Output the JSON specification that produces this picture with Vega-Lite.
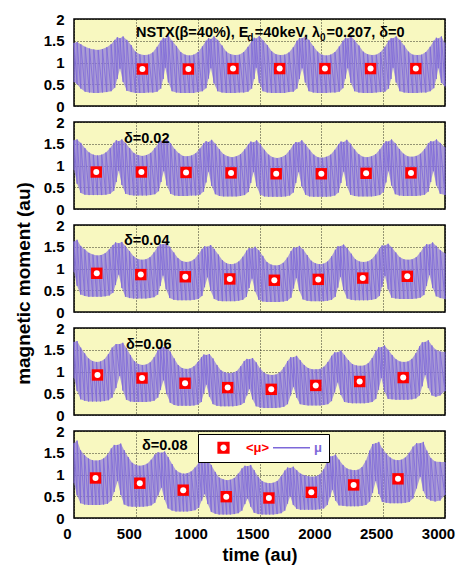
{
"$schema": "https://vega.github.io/schema/vega-lite/v6.json",
"padding": {"left": 13, "top": 11, "right": 0, "bottom": 0},
"background": "white",
"spacing": 16,
"bounds": "flush",
"resolve": {"scale": {"color": "independent"}, "legend": {"color": "independent"}},
"config": {
 "font": "Liberation Sans",
 "view": {"stroke": "black", "strokeWidth": 1.5, "fill": "#f8f8c0"},
 "axis": {"grid": true, "gridColor": "black", "gridDash": [1, 2], "gridOpacity": 0.8, "gridWidth": 1, "domain": false, "ticks": false, "labelOverlap": false, "labelFlush": false, "labelFont": "Liberation Sans", "labelFontWeight": "bold", "labelFontSize": 15, "labelColor": "black", "titleFont": "Liberation Sans", "titleFontWeight": "bold", "titleColor": "black", "titleFontSize": 18},
 "title": {"font": "Liberation Sans", "fontWeight": "bold", "fontSize": 14.5, "color": "black", "anchor": "start", "frame": "group", "subtitleFont": "Liberation Sans", "subtitleFontWeight": "bold", "subtitleFontSize": 10, "subtitleColor": "black"}
},
"datasets": {
"m1": [{"t":0,"l":0.55,"h":1.45},{"t":25,"l":0.5,"h":1.47},{"t":55,"l":0.4,"h":1.42},{"t":90,"l":0.33,"h":1.36},{"t":125,"l":0.31,"h":1.32},{"t":160,"l":0.3,"h":1.3},{"t":195,"l":0.3,"h":1.29},{"t":230,"l":0.31,"h":1.31},{"t":265,"l":0.32,"h":1.35},{"t":300,"l":0.34,"h":1.42},{"t":330,"l":0.42,"h":1.52},{"t":350,"l":0.62,"h":1.58},
{"t":372,"l":0.86,"h":1.56},{"t":397,"l":0.55,"h":1.6},{"t":427,"l":0.35,"h":1.52},{"t":462,"l":0.32,"h":1.4},{"t":497,"l":0.3,"h":1.25},{"t":532,"l":0.3,"h":1.19},{"t":567,"l":0.3,"h":1.17},{"t":602,"l":0.31,"h":1.18},{"t":637,"l":0.31,"h":1.23},{"t":672,"l":0.33,"h":1.36},{"t":702,"l":0.4,"h":1.5},{"t":722,"l":0.62,"h":1.57},
{"t":738,"l":0.88,"h":1.55},{"t":763,"l":0.54,"h":1.62},{"t":793,"l":0.34,"h":1.5},{"t":828,"l":0.31,"h":1.38},{"t":863,"l":0.3,"h":1.24},{"t":898,"l":0.3,"h":1.18},{"t":933,"l":0.3,"h":1.16},{"t":968,"l":0.3,"h":1.18},{"t":1003,"l":0.32,"h":1.24},{"t":1038,"l":0.34,"h":1.37},{"t":1068,"l":0.41,"h":1.5},{"t":1088,"l":0.63,"h":1.56},
{"t":1107,"l":0.87,"h":1.54},{"t":1132,"l":0.52,"h":1.6},{"t":1162,"l":0.34,"h":1.52},{"t":1197,"l":0.31,"h":1.39},{"t":1232,"l":0.3,"h":1.25},{"t":1267,"l":0.3,"h":1.19},{"t":1302,"l":0.3,"h":1.17},{"t":1337,"l":0.31,"h":1.18},{"t":1372,"l":0.31,"h":1.24},{"t":1407,"l":0.33,"h":1.36},{"t":1437,"l":0.4,"h":1.49},{"t":1457,"l":0.62,"h":1.57},
{"t":1473,"l":0.88,"h":1.55},{"t":1498,"l":0.53,"h":1.61},{"t":1528,"l":0.34,"h":1.51},{"t":1563,"l":0.31,"h":1.4},{"t":1598,"l":0.3,"h":1.26},{"t":1633,"l":0.3,"h":1.19},{"t":1668,"l":0.3,"h":1.17},{"t":1703,"l":0.3,"h":1.18},{"t":1738,"l":0.32,"h":1.23},{"t":1773,"l":0.33,"h":1.35},{"t":1803,"l":0.4,"h":1.5},{"t":1823,"l":0.62,"h":1.56},
{"t":1845,"l":0.87,"h":1.56},{"t":1870,"l":0.54,"h":1.6},{"t":1900,"l":0.34,"h":1.52},{"t":1935,"l":0.31,"h":1.38},{"t":1970,"l":0.3,"h":1.25},{"t":2005,"l":0.3,"h":1.18},{"t":2040,"l":0.3,"h":1.16},{"t":2075,"l":0.31,"h":1.18},{"t":2110,"l":0.31,"h":1.24},{"t":2145,"l":0.33,"h":1.37},{"t":2175,"l":0.41,"h":1.5},{"t":2195,"l":0.63,"h":1.57},
{"t":2214,"l":0.87,"h":1.55},{"t":2239,"l":0.53,"h":1.61},{"t":2269,"l":0.34,"h":1.51},{"t":2304,"l":0.31,"h":1.39},{"t":2339,"l":0.3,"h":1.25},{"t":2374,"l":0.3,"h":1.19},{"t":2409,"l":0.3,"h":1.17},{"t":2444,"l":0.31,"h":1.18},{"t":2479,"l":0.32,"h":1.24},{"t":2514,"l":0.33,"h":1.36},{"t":2544,"l":0.4,"h":1.5},{"t":2564,"l":0.62,"h":1.56},
{"t":2580,"l":0.88,"h":1.56},{"t":2605,"l":0.54,"h":1.6},{"t":2635,"l":0.34,"h":1.52},{"t":2670,"l":0.31,"h":1.39},{"t":2705,"l":0.3,"h":1.25},{"t":2740,"l":0.3,"h":1.18},{"t":2775,"l":0.3,"h":1.17},{"t":2810,"l":0.31,"h":1.18},{"t":2845,"l":0.31,"h":1.24},{"t":2880,"l":0.34,"h":1.36},{"t":2910,"l":0.41,"h":1.5},{"t":2930,"l":0.62,"h":1.57},
{"t":2946,"l":0.87,"h":1.55},{"t":2971,"l":0.53,"h":1.6},{"t":3000,"l":0.45,"h":1.45}],
"m2": [{"t":0,"l":0.9,"h":1.58},{"t":25,"l":0.58,"h":1.6},{"t":55,"l":0.37,"h":1.52},{"t":88,"l":0.33,"h":1.4},{"t":122,"l":0.32,"h":1.3},{"t":156,"l":0.32,"h":1.25},{"t":190,"l":0.32,"h":1.23},{"t":224,"l":0.32,"h":1.25},{"t":258,"l":0.33,"h":1.3},{"t":292,"l":0.35,"h":1.4},{"t":322,"l":0.42,"h":1.52},{"t":342,"l":0.62,"h":1.58},
{"t":362,"l":0.88,"h":1.56},{"t":387,"l":0.55,"h":1.6},{"t":417,"l":0.35,"h":1.52},{"t":450,"l":0.32,"h":1.4},{"t":484,"l":0.31,"h":1.29},{"t":518,"l":0.31,"h":1.24},{"t":552,"l":0.31,"h":1.22},{"t":586,"l":0.31,"h":1.24},{"t":620,"l":0.32,"h":1.29},{"t":654,"l":0.34,"h":1.4},{"t":684,"l":0.41,"h":1.52},{"t":704,"l":0.62,"h":1.57},
{"t":726,"l":0.87,"h":1.55},{"t":751,"l":0.54,"h":1.61},{"t":781,"l":0.35,"h":1.51},{"t":814,"l":0.31,"h":1.38},{"t":848,"l":0.3,"h":1.28},{"t":882,"l":0.3,"h":1.22},{"t":916,"l":0.3,"h":1.21},{"t":950,"l":0.31,"h":1.23},{"t":984,"l":0.31,"h":1.28},{"t":1018,"l":0.33,"h":1.39},{"t":1048,"l":0.4,"h":1.51},{"t":1068,"l":0.61,"h":1.56},
{"t":1088,"l":0.86,"h":1.54},{"t":1113,"l":0.53,"h":1.59},{"t":1143,"l":0.34,"h":1.5},{"t":1176,"l":0.3,"h":1.37},{"t":1210,"l":0.29,"h":1.26},{"t":1244,"l":0.29,"h":1.21},{"t":1278,"l":0.29,"h":1.19},{"t":1312,"l":0.29,"h":1.21},{"t":1346,"l":0.3,"h":1.26},{"t":1380,"l":0.32,"h":1.37},{"t":1410,"l":0.39,"h":1.49},{"t":1430,"l":0.6,"h":1.55},
{"t":1452,"l":0.85,"h":1.53},{"t":1477,"l":0.52,"h":1.58},{"t":1507,"l":0.33,"h":1.49},{"t":1540,"l":0.29,"h":1.36},{"t":1574,"l":0.28,"h":1.25},{"t":1608,"l":0.28,"h":1.19},{"t":1642,"l":0.28,"h":1.17},{"t":1676,"l":0.28,"h":1.19},{"t":1710,"l":0.29,"h":1.24},{"t":1744,"l":0.31,"h":1.35},{"t":1774,"l":0.38,"h":1.48},{"t":1794,"l":0.6,"h":1.54},
{"t":1817,"l":0.85,"h":1.53},{"t":1842,"l":0.52,"h":1.58},{"t":1872,"l":0.33,"h":1.49},{"t":1905,"l":0.29,"h":1.36},{"t":1939,"l":0.28,"h":1.25},{"t":1973,"l":0.28,"h":1.19},{"t":2007,"l":0.28,"h":1.18},{"t":2041,"l":0.28,"h":1.2},{"t":2075,"l":0.29,"h":1.25},{"t":2109,"l":0.31,"h":1.36},{"t":2139,"l":0.38,"h":1.49},{"t":2159,"l":0.6,"h":1.55},
{"t":2181,"l":0.86,"h":1.54},{"t":2206,"l":0.53,"h":1.59},{"t":2236,"l":0.33,"h":1.5},{"t":2269,"l":0.3,"h":1.37},{"t":2303,"l":0.29,"h":1.26},{"t":2337,"l":0.29,"h":1.2},{"t":2371,"l":0.29,"h":1.19},{"t":2405,"l":0.29,"h":1.21},{"t":2439,"l":0.3,"h":1.26},{"t":2473,"l":0.32,"h":1.37},{"t":2503,"l":0.39,"h":1.5},{"t":2523,"l":0.61,"h":1.56},
{"t":2543,"l":0.87,"h":1.55},{"t":2568,"l":0.54,"h":1.6},{"t":2598,"l":0.34,"h":1.51},{"t":2631,"l":0.31,"h":1.38},{"t":2665,"l":0.3,"h":1.27},{"t":2699,"l":0.3,"h":1.21},{"t":2733,"l":0.3,"h":1.2},{"t":2767,"l":0.3,"h":1.22},{"t":2801,"l":0.31,"h":1.27},{"t":2835,"l":0.33,"h":1.38},{"t":2865,"l":0.4,"h":1.51},{"t":2885,"l":0.62,"h":1.56},
{"t":2906,"l":0.87,"h":1.55},{"t":2931,"l":0.54,"h":1.6},{"t":2961,"l":0.35,"h":1.52},{"t":3000,"l":0.32,"h":1.42}],
"m3": [{"t":0,"l":0.92,"h":1.62},{"t":25,"l":0.6,"h":1.66},{"t":54,"l":0.4,"h":1.52},{"t":87,"l":0.37,"h":1.44},{"t":120,"l":0.35,"h":1.36},{"t":153,"l":0.35,"h":1.32},{"t":186,"l":0.35,"h":1.3},{"t":219,"l":0.35,"h":1.31},{"t":252,"l":0.36,"h":1.35},{"t":285,"l":0.38,"h":1.44},{"t":315,"l":0.44,"h":1.54},{"t":336,"l":0.62,"h":1.6},
{"t":362,"l":0.86,"h":1.58},{"t":387,"l":0.55,"h":1.61},{"t":416,"l":0.35,"h":1.52},{"t":449,"l":0.32,"h":1.4},{"t":482,"l":0.31,"h":1.28},{"t":515,"l":0.31,"h":1.22},{"t":548,"l":0.31,"h":1.2},{"t":581,"l":0.31,"h":1.21},{"t":614,"l":0.32,"h":1.26},{"t":647,"l":0.34,"h":1.37},{"t":677,"l":0.4,"h":1.5},{"t":698,"l":0.6,"h":1.56},
{"t":720,"l":0.84,"h":1.56},{"t":745,"l":0.52,"h":1.59},{"t":774,"l":0.32,"h":1.5},{"t":807,"l":0.28,"h":1.37},{"t":840,"l":0.27,"h":1.24},{"t":873,"l":0.27,"h":1.17},{"t":906,"l":0.27,"h":1.15},{"t":939,"l":0.27,"h":1.16},{"t":972,"l":0.28,"h":1.21},{"t":1005,"l":0.3,"h":1.32},{"t":1035,"l":0.37,"h":1.45},{"t":1056,"l":0.57,"h":1.51},
{"t":1080,"l":0.8,"h":1.5},{"t":1105,"l":0.49,"h":1.54},{"t":1134,"l":0.3,"h":1.45},{"t":1167,"l":0.26,"h":1.32},{"t":1200,"l":0.25,"h":1.19},{"t":1233,"l":0.25,"h":1.12},{"t":1266,"l":0.25,"h":1.1},{"t":1299,"l":0.25,"h":1.11},{"t":1332,"l":0.26,"h":1.16},{"t":1365,"l":0.28,"h":1.27},{"t":1395,"l":0.35,"h":1.41},{"t":1416,"l":0.55,"h":1.47},
{"t":1440,"l":0.77,"h":1.46},{"t":1465,"l":0.47,"h":1.5},{"t":1494,"l":0.28,"h":1.42},{"t":1527,"l":0.24,"h":1.29},{"t":1560,"l":0.23,"h":1.15},{"t":1593,"l":0.23,"h":1.09},{"t":1626,"l":0.23,"h":1.07},{"t":1659,"l":0.23,"h":1.08},{"t":1692,"l":0.24,"h":1.13},{"t":1725,"l":0.26,"h":1.25},{"t":1755,"l":0.33,"h":1.4},{"t":1776,"l":0.54,"h":1.48},
{"t":1798,"l":0.78,"h":1.48},{"t":1823,"l":0.48,"h":1.52},{"t":1852,"l":0.29,"h":1.44},{"t":1885,"l":0.26,"h":1.31},{"t":1918,"l":0.25,"h":1.18},{"t":1951,"l":0.25,"h":1.12},{"t":1984,"l":0.25,"h":1.1},{"t":2017,"l":0.25,"h":1.11},{"t":2050,"l":0.26,"h":1.16},{"t":2083,"l":0.28,"h":1.28},{"t":2113,"l":0.35,"h":1.43},{"t":2134,"l":0.56,"h":1.51},
{"t":2155,"l":0.81,"h":1.51},{"t":2180,"l":0.5,"h":1.55},{"t":2209,"l":0.31,"h":1.47},{"t":2242,"l":0.28,"h":1.34},{"t":2275,"l":0.27,"h":1.21},{"t":2308,"l":0.27,"h":1.16},{"t":2341,"l":0.27,"h":1.15},{"t":2374,"l":0.27,"h":1.16},{"t":2407,"l":0.28,"h":1.21},{"t":2440,"l":0.3,"h":1.32},{"t":2470,"l":0.37,"h":1.46},{"t":2491,"l":0.58,"h":1.53},
{"t":2515,"l":0.83,"h":1.53},{"t":2540,"l":0.52,"h":1.57},{"t":2569,"l":0.33,"h":1.49},{"t":2602,"l":0.31,"h":1.37},{"t":2635,"l":0.3,"h":1.26},{"t":2668,"l":0.3,"h":1.21},{"t":2701,"l":0.3,"h":1.2},{"t":2734,"l":0.3,"h":1.21},{"t":2767,"l":0.31,"h":1.26},{"t":2800,"l":0.33,"h":1.37},{"t":2830,"l":0.39,"h":1.5},{"t":2851,"l":0.6,"h":1.56},
{"t":2875,"l":0.85,"h":1.55},{"t":2900,"l":0.55,"h":1.6},{"t":2929,"l":0.36,"h":1.52},{"t":2962,"l":0.32,"h":1.42},{"t":3000,"l":0.3,"h":1.35}],
"m4": [{"t":0,"l":0.85,"h":1.68},{"t":25,"l":0.55,"h":1.7},{"t":54,"l":0.36,"h":1.55},{"t":86,"l":0.33,"h":1.42},{"t":118,"l":0.31,"h":1.3},{"t":150,"l":0.31,"h":1.24},{"t":182,"l":0.31,"h":1.22},{"t":214,"l":0.31,"h":1.23},{"t":246,"l":0.32,"h":1.28},{"t":278,"l":0.34,"h":1.4},{"t":308,"l":0.4,"h":1.55},{"t":340,"l":0.62,"h":1.63},
{"t":370,"l":0.9,"h":1.63},{"t":395,"l":0.56,"h":1.66},{"t":424,"l":0.35,"h":1.54},{"t":456,"l":0.31,"h":1.38},{"t":488,"l":0.3,"h":1.24},{"t":520,"l":0.3,"h":1.17},{"t":552,"l":0.3,"h":1.15},{"t":584,"l":0.3,"h":1.16},{"t":616,"l":0.31,"h":1.21},{"t":648,"l":0.33,"h":1.33},{"t":678,"l":0.4,"h":1.49},{"t":700,"l":0.58,"h":1.56},
{"t":724,"l":0.8,"h":1.56},{"t":749,"l":0.48,"h":1.58},{"t":778,"l":0.28,"h":1.46},{"t":810,"l":0.23,"h":1.3},{"t":842,"l":0.21,"h":1.15},{"t":874,"l":0.21,"h":1.08},{"t":906,"l":0.21,"h":1.06},{"t":938,"l":0.21,"h":1.07},{"t":970,"l":0.22,"h":1.12},{"t":1002,"l":0.24,"h":1.22},{"t":1030,"l":0.3,"h":1.33},{"t":1050,"l":0.5,"h":1.39},
{"t":1070,"l":0.7,"h":1.38},{"t":1095,"l":0.42,"h":1.4},{"t":1124,"l":0.25,"h":1.3},{"t":1156,"l":0.21,"h":1.15},{"t":1188,"l":0.2,"h":1.03},{"t":1220,"l":0.2,"h":0.98},{"t":1252,"l":0.2,"h":0.96},{"t":1284,"l":0.2,"h":0.97},{"t":1316,"l":0.21,"h":1.01},{"t":1348,"l":0.23,"h":1.12},{"t":1376,"l":0.28,"h":1.24},{"t":1398,"l":0.45,"h":1.29},
{"t":1419,"l":0.6,"h":1.28},{"t":1444,"l":0.36,"h":1.31},{"t":1473,"l":0.2,"h":1.21},{"t":1505,"l":0.17,"h":1.07},{"t":1537,"l":0.16,"h":0.97},{"t":1569,"l":0.16,"h":0.93},{"t":1601,"l":0.16,"h":0.92},{"t":1633,"l":0.16,"h":0.93},{"t":1665,"l":0.17,"h":0.98},{"t":1697,"l":0.19,"h":1.1},{"t":1727,"l":0.25,"h":1.24},{"t":1752,"l":0.45,"h":1.33},
{"t":1775,"l":0.65,"h":1.33},{"t":1800,"l":0.4,"h":1.36},{"t":1829,"l":0.25,"h":1.26},{"t":1861,"l":0.23,"h":1.15},{"t":1893,"l":0.22,"h":1.08},{"t":1925,"l":0.22,"h":1.05},{"t":1957,"l":0.22,"h":1.05},{"t":1989,"l":0.22,"h":1.06},{"t":2021,"l":0.23,"h":1.11},{"t":2053,"l":0.25,"h":1.22},{"t":2083,"l":0.32,"h":1.36},{"t":2108,"l":0.52,"h":1.44},
{"t":2133,"l":0.75,"h":1.44},{"t":2158,"l":0.46,"h":1.48},{"t":2187,"l":0.3,"h":1.38},{"t":2219,"l":0.28,"h":1.26},{"t":2251,"l":0.27,"h":1.17},{"t":2283,"l":0.27,"h":1.14},{"t":2315,"l":0.27,"h":1.13},{"t":2347,"l":0.27,"h":1.14},{"t":2379,"l":0.28,"h":1.19},{"t":2411,"l":0.3,"h":1.31},{"t":2441,"l":0.37,"h":1.47},{"t":2463,"l":0.58,"h":1.56},
{"t":2486,"l":0.85,"h":1.56},{"t":2511,"l":0.53,"h":1.6},{"t":2540,"l":0.37,"h":1.5},{"t":2572,"l":0.36,"h":1.38},{"t":2604,"l":0.35,"h":1.28},{"t":2636,"l":0.35,"h":1.23},{"t":2668,"l":0.35,"h":1.22},{"t":2700,"l":0.35,"h":1.23},{"t":2732,"l":0.36,"h":1.29},{"t":2764,"l":0.38,"h":1.42},{"t":2794,"l":0.45,"h":1.58},{"t":2816,"l":0.66,"h":1.67},
{"t":2840,"l":0.92,"h":1.68},{"t":2865,"l":0.62,"h":1.72},{"t":2894,"l":0.45,"h":1.6},{"t":2926,"l":0.42,"h":1.5},{"t":2960,"l":0.45,"h":1.46},{"t":3000,"l":0.55,"h":1.45}],
"m5": [{"t":0,"l":0.8,"h":1.72},{"t":25,"l":0.52,"h":1.78},{"t":53,"l":0.34,"h":1.56},{"t":85,"l":0.31,"h":1.45},{"t":117,"l":0.3,"h":1.37},{"t":149,"l":0.3,"h":1.33},{"t":178,"l":0.3,"h":1.32},{"t":207,"l":0.3,"h":1.33},{"t":239,"l":0.31,"h":1.37},{"t":271,"l":0.33,"h":1.46},{"t":301,"l":0.4,"h":1.6},{"t":325,"l":0.6,"h":1.68},
{"t":353,"l":0.85,"h":1.68},{"t":378,"l":0.53,"h":1.71},{"t":406,"l":0.31,"h":1.56},{"t":438,"l":0.27,"h":1.4},{"t":470,"l":0.26,"h":1.27},{"t":502,"l":0.26,"h":1.22},{"t":531,"l":0.26,"h":1.2},{"t":560,"l":0.26,"h":1.21},{"t":592,"l":0.27,"h":1.25},{"t":624,"l":0.29,"h":1.34},{"t":654,"l":0.35,"h":1.46},{"t":680,"l":0.52,"h":1.51},
{"t":708,"l":0.7,"h":1.5},{"t":733,"l":0.42,"h":1.53},{"t":761,"l":0.22,"h":1.4},{"t":793,"l":0.17,"h":1.24},{"t":825,"l":0.15,"h":1.1},{"t":857,"l":0.15,"h":1.04},{"t":886,"l":0.15,"h":1.02},{"t":915,"l":0.15,"h":1.03},{"t":947,"l":0.16,"h":1.07},{"t":979,"l":0.18,"h":1.16},{"t":1009,"l":0.24,"h":1.27},{"t":1033,"l":0.4,"h":1.32},
{"t":1057,"l":0.55,"h":1.31},{"t":1082,"l":0.32,"h":1.34},{"t":1110,"l":0.14,"h":1.22},{"t":1142,"l":0.1,"h":1.06},{"t":1174,"l":0.08,"h":0.93},{"t":1206,"l":0.08,"h":0.89},{"t":1235,"l":0.08,"h":0.87},{"t":1264,"l":0.08,"h":0.88},{"t":1296,"l":0.09,"h":0.92},{"t":1328,"l":0.11,"h":1.02},{"t":1358,"l":0.17,"h":1.14},{"t":1382,"l":0.32,"h":1.2},
{"t":1404,"l":0.45,"h":1.19},{"t":1429,"l":0.26,"h":1.22},{"t":1457,"l":0.12,"h":1.1},{"t":1489,"l":0.09,"h":0.95},{"t":1521,"l":0.08,"h":0.85},{"t":1553,"l":0.08,"h":0.81},{"t":1582,"l":0.08,"h":0.8},{"t":1611,"l":0.08,"h":0.81},{"t":1643,"l":0.09,"h":0.85},{"t":1675,"l":0.11,"h":0.96},{"t":1705,"l":0.17,"h":1.09},{"t":1727,"l":0.33,"h":1.16},
{"t":1748,"l":0.5,"h":1.15},{"t":1773,"l":0.3,"h":1.18},{"t":1801,"l":0.21,"h":1.1},{"t":1833,"l":0.19,"h":1.02},{"t":1865,"l":0.19,"h":0.98},{"t":1897,"l":0.19,"h":0.96},{"t":1926,"l":0.19,"h":0.95},{"t":1955,"l":0.19,"h":0.96},{"t":1987,"l":0.2,"h":1.0},{"t":2019,"l":0.22,"h":1.12},{"t":2049,"l":0.3,"h":1.32},{"t":2070,"l":0.48,"h":1.42},
{"t":2090,"l":0.65,"h":1.42},{"t":2115,"l":0.4,"h":1.46},{"t":2143,"l":0.29,"h":1.34},{"t":2175,"l":0.28,"h":1.22},{"t":2207,"l":0.27,"h":1.14},{"t":2239,"l":0.27,"h":1.11},{"t":2268,"l":0.27,"h":1.1},{"t":2297,"l":0.27,"h":1.11},{"t":2329,"l":0.28,"h":1.17},{"t":2361,"l":0.3,"h":1.32},{"t":2391,"l":0.38,"h":1.55},{"t":2415,"l":0.58,"h":1.7},
{"t":2440,"l":0.85,"h":1.72},{"t":2465,"l":0.55,"h":1.75},{"t":2493,"l":0.37,"h":1.6},{"t":2525,"l":0.35,"h":1.48},{"t":2557,"l":0.34,"h":1.39},{"t":2589,"l":0.34,"h":1.34},{"t":2618,"l":0.34,"h":1.33},{"t":2647,"l":0.34,"h":1.34},{"t":2679,"l":0.35,"h":1.39},{"t":2711,"l":0.37,"h":1.5},{"t":2741,"l":0.45,"h":1.64},{"t":2770,"l":0.68,"h":1.72},
{"t":2800,"l":0.95,"h":1.72},{"t":2825,"l":0.62,"h":1.75},{"t":2853,"l":0.45,"h":1.55},{"t":2885,"l":0.4,"h":1.38},{"t":2920,"l":0.38,"h":1.3},{"t":2960,"l":0.4,"h":1.29},{"t":3000,"l":0.53,"h":1.29}],
"a1": [{"t":553,"v":0.85},{"t":925,"v":0.85},{"t":1286,"v":0.86},{"t":1663,"v":0.86},{"t":2029,"v":0.86},{"t":2398,"v":0.86},{"t":2764,"v":0.86}],
"a2": [{"t":180,"v":0.85},{"t":545,"v":0.85},{"t":906,"v":0.84},{"t":1270,"v":0.83},{"t":1635,"v":0.81},{"t":2000,"v":0.81},{"t":2362,"v":0.82},{"t":2725,"v":0.83}],
"a3": [{"t":184,"v":0.89},{"t":540,"v":0.86},{"t":900,"v":0.81},{"t":1260,"v":0.76},{"t":1620,"v":0.73},{"t":1975,"v":0.75},{"t":2335,"v":0.78},{"t":2695,"v":0.82}],
"a4": [{"t":190,"v":0.92},{"t":550,"v":0.85},{"t":898,"v":0.73},{"t":1243,"v":0.63},{"t":1595,"v":0.59},{"t":1955,"v":0.68},{"t":2310,"v":0.77},{"t":2662,"v":0.86}],
"a5": [{"t":174,"v":0.92},{"t":532,"v":0.8},{"t":883,"v":0.64},{"t":1231,"v":0.49},{"t":1576,"v":0.46},{"t":1919,"v":0.59},{"t":2261,"v":0.76},{"t":2620,"v":0.9}]
},
"vconcat": [
{
 "width": 371, "height": 87,
 "title": {"text": "NSTX(\u03b2=40%), E\u00a0\u2006=40keV, \u03bb\u00a0\u2006=0.207, \u03b4=0", "subtitle": "\u200b\u00a0\u00a0\u00a0\u00a0\u00a0\u00a0\u00a0\u00a0\u00a0\u00a0\u00a0\u00a0\u00a0\u00a0\u00a0\u00a0\u00a0\u00a0\u00a0\u00a0\u00a0\u00a0\u00a0\u00a0\u00a0\u00a0\u00a0\u00a0\u00a0\u00a0\u00a0\u00a0\u00a0\u00a0\u00a0\u00a0\u00a0\u00a0\u00a0\u00a0d\u00a0\u00a0\u00a0\u00a0\u00a0\u00a0\u00a0\u00a0\u00a0\u00a0\u00a0\u00a0\u00a0\u00a0\u00a0\u00a0\u00a0\u00a0\u00a0\u00a0\u00a0\u00a0\u00a0\u00a00", "dx": 62, "offset": -32, "subtitlePadding": -7.5},
 "layer": [
  {"data": {"name": "m1"}, "mark": {"type": "area", "color": "#8a76de", "opacity": 0.7},
   "encoding": {"x": {"field": "t", "type": "quantitative", "scale": {"domain": [0, 3000]}, "axis": {"values": [0, 500, 1000, 1500, 2000, 2500, 3000], "tickCount": 10, "labels": false, "title": null}},
    "y": {"field": "l", "type": "quantitative", "scale": {"domain": [0, 2]}, "axis": {"values": [0, 0.5, 1, 1.5, 2], "tickCount": 10, "format": "~g", "labelPadding": 10, "title": null}}, "y2": {"field": "h"}}},
  {"data": {"name": "m1"}, "transform": [{"fold": ["l", "h"]}], "mark": {"type": "line", "color": "#7d68d9", "strokeWidth": 0.8},
   "encoding": {"x": {"field": "t", "type": "quantitative"}, "y": {"field": "value", "type": "quantitative"}, "order": {"value": null}}},
  {"data": {"name": "a1"}, "mark": {"type": "point", "shape": "square", "filled": true, "color": "red", "size": 130, "opacity": 1},
   "encoding": {"x": {"field": "t", "type": "quantitative"}, "y": {"field": "v", "type": "quantitative"}}},
  {"data": {"name": "a1"}, "mark": {"type": "point", "shape": "circle", "filled": true, "color": "white", "size": 36, "opacity": 1},
   "encoding": {"x": {"field": "t", "type": "quantitative"}, "y": {"field": "v", "type": "quantitative"}}}
 ]
},
{
 "width": 371, "height": 87,
 "title": {"text": "\u03b4=0.02", "dx": 50, "offset": -31},
 "layer": [
  {"data": {"name": "m2"}, "mark": {"type": "area", "color": "#8a76de", "opacity": 0.7},
   "encoding": {"x": {"field": "t", "type": "quantitative", "scale": {"domain": [0, 3000]}, "axis": {"values": [0, 500, 1000, 1500, 2000, 2500, 3000], "tickCount": 10, "labels": false, "title": null}},
    "y": {"field": "l", "type": "quantitative", "scale": {"domain": [0, 2]}, "axis": {"values": [0, 0.5, 1, 1.5, 2], "tickCount": 10, "format": "~g", "labelPadding": 10, "title": null}}, "y2": {"field": "h"}}},
  {"data": {"name": "m2"}, "transform": [{"fold": ["l", "h"]}], "mark": {"type": "line", "color": "#7d68d9", "strokeWidth": 0.8},
   "encoding": {"x": {"field": "t", "type": "quantitative"}, "y": {"field": "value", "type": "quantitative"}, "order": {"value": null}}},
  {"data": {"name": "a2"}, "mark": {"type": "point", "shape": "square", "filled": true, "color": "red", "size": 130, "opacity": 1},
   "encoding": {"x": {"field": "t", "type": "quantitative"}, "y": {"field": "v", "type": "quantitative"}}},
  {"data": {"name": "a2"}, "mark": {"type": "point", "shape": "circle", "filled": true, "color": "white", "size": 36, "opacity": 1},
   "encoding": {"x": {"field": "t", "type": "quantitative"}, "y": {"field": "v", "type": "quantitative"}}}
 ]
},
{
 "width": 371, "height": 87,
 "title": {"text": "\u03b4=0.04", "dx": 50, "offset": -67},
 "layer": [
  {"data": {"name": "m3"}, "mark": {"type": "area", "color": "#8a76de", "opacity": 0.7},
   "encoding": {"x": {"field": "t", "type": "quantitative", "scale": {"domain": [0, 3000]}, "axis": {"values": [0, 500, 1000, 1500, 2000, 2500, 3000], "tickCount": 10, "labels": false, "title": null}},
    "y": {"field": "l", "type": "quantitative", "scale": {"domain": [0, 2]}, "axis": {"values": [0, 0.5, 1, 1.5, 2], "tickCount": 10, "format": "~g", "labelPadding": 10, "title": "magnetic moment (au)", "titleFontSize": 19, "titlePadding": 10, "titleY": 58}}, "y2": {"field": "h"}}},
  {"data": {"name": "m3"}, "transform": [{"fold": ["l", "h"]}], "mark": {"type": "line", "color": "#7d68d9", "strokeWidth": 0.8},
   "encoding": {"x": {"field": "t", "type": "quantitative"}, "y": {"field": "value", "type": "quantitative"}, "order": {"value": null}}},
  {"data": {"name": "a3"}, "mark": {"type": "point", "shape": "square", "filled": true, "color": "red", "size": 130, "opacity": 1},
   "encoding": {"x": {"field": "t", "type": "quantitative"}, "y": {"field": "v", "type": "quantitative"}}},
  {"data": {"name": "a3"}, "mark": {"type": "point", "shape": "circle", "filled": true, "color": "white", "size": 36, "opacity": 1},
   "encoding": {"x": {"field": "t", "type": "quantitative"}, "y": {"field": "v", "type": "quantitative"}}}
 ]
},
{
 "width": 371, "height": 87,
 "title": {"text": "\u03b4=0.06", "dx": 52, "offset": -31},
 "layer": [
  {"data": {"name": "m4"}, "mark": {"type": "area", "color": "#8a76de", "opacity": 0.7},
   "encoding": {"x": {"field": "t", "type": "quantitative", "scale": {"domain": [0, 3000]}, "axis": {"values": [0, 500, 1000, 1500, 2000, 2500, 3000], "tickCount": 10, "labels": false, "title": null}},
    "y": {"field": "l", "type": "quantitative", "scale": {"domain": [0, 2]}, "axis": {"values": [0, 0.5, 1, 1.5, 2], "tickCount": 10, "format": "~g", "labelPadding": 10, "title": null}}, "y2": {"field": "h"}}},
  {"data": {"name": "m4"}, "transform": [{"fold": ["l", "h"]}], "mark": {"type": "line", "color": "#7d68d9", "strokeWidth": 0.8},
   "encoding": {"x": {"field": "t", "type": "quantitative"}, "y": {"field": "value", "type": "quantitative"}, "order": {"value": null}}},
  {"data": {"name": "a4"}, "mark": {"type": "point", "shape": "square", "filled": true, "color": "red", "size": 130, "opacity": 1},
   "encoding": {"x": {"field": "t", "type": "quantitative"}, "y": {"field": "v", "type": "quantitative"}}},
  {"data": {"name": "a4"}, "mark": {"type": "point", "shape": "circle", "filled": true, "color": "white", "size": 36, "opacity": 1},
   "encoding": {"x": {"field": "t", "type": "quantitative"}, "y": {"field": "v", "type": "quantitative"}}}
 ]
},
{
 "width": 371, "height": 87,
 "title": {"text": "\u03b4=0.08", "dx": 68, "offset": -29},
 "layer": [
  {"data": {"name": "m5"}, "mark": {"type": "area", "color": "#8a76de", "opacity": 0.7},
   "encoding": {"x": {"field": "t", "type": "quantitative", "scale": {"domain": [0, 3000]}, "axis": {"values": [0, 500, 1000, 1500, 2000, 2500, 3000], "tickCount": 10, "format": "d", "labelPadding": 8, "labelOffset": -7, "title": "time (au)", "titlePadding": 5}},
    "y": {"field": "l", "type": "quantitative", "scale": {"domain": [0, 2]}, "axis": {"values": [0, 0.5, 1, 1.5, 2], "tickCount": 10, "format": "~g", "labelPadding": 10, "title": null}}, "y2": {"field": "h"}}},
  {"data": {"name": "m5"}, "transform": [{"fold": ["l", "h"]}], "mark": {"type": "line", "strokeWidth": 0.8},
   "encoding": {"x": {"field": "t", "type": "quantitative"}, "y": {"field": "value", "type": "quantitative"}, "order": {"value": null},
    "color": {"datum": "\u03bc", "type": "nominal", "scale": {"domain": ["<\u03bc>", "\u03bc"], "range": ["red", "#7d68d9"]},
     "legend": {"title": null, "orient": "none", "legendX": 124, "legendY": 3, "direction": "horizontal", "fillColor": "white", "strokeColor": "black", "padding": 7, "labelOffset": 5, "columnPadding": 0, "labelFont": "Liberation Sans", "labelFontWeight": "bold", "labelFontSize": 13,
      "encode": {
       "symbols": {"update": {
        "x": {"value": 18.5},
        "shape": {"signal": "datum.value === '\u03bc' ? 'stroke' : 'M-1,0L1,0Z M-0.33,-0.33H0.33V0.33H-0.33Z M0,-0.17A0.17,0.17 0 1,0 0,0.17A0.17,0.17 0 1,0 0,-0.17Z'"},
        "size": {"value": 1369},
        "fill": {"signal": "datum.value === '\u03bc' ? 'transparent' : 'red'"},
        "stroke": {"signal": "datum.value === '\u03bc' ? '#7d68d9' : 'transparent'"},
        "strokeWidth": {"signal": "datum.value === '\u03bc' ? 1.3 : 0"},
        "strokeOpacity": {"signal": "datum.value === '\u03bc' ? 1 : 0"},
        "opacity": {"value": 1}}},
       "labels": {"update": {"x": {"value": 41}, "fill": {"signal": "datum.value === '\u03bc' ? '#7d68d9' : 'red'"}}}
      }}}}},
  {"data": {"name": "a5"}, "mark": {"type": "point", "shape": "square", "filled": true, "size": 130, "opacity": 1},
   "encoding": {"x": {"field": "t", "type": "quantitative"}, "y": {"field": "v", "type": "quantitative"}, "color": {"datum": "<\u03bc>", "type": "nominal"}}},
  {"data": {"name": "a5"}, "mark": {"type": "point", "shape": "circle", "filled": true, "color": "white", "size": 36, "opacity": 1},
   "encoding": {"x": {"field": "t", "type": "quantitative"}, "y": {"field": "v", "type": "quantitative"}}}
 ]
}
]
}
